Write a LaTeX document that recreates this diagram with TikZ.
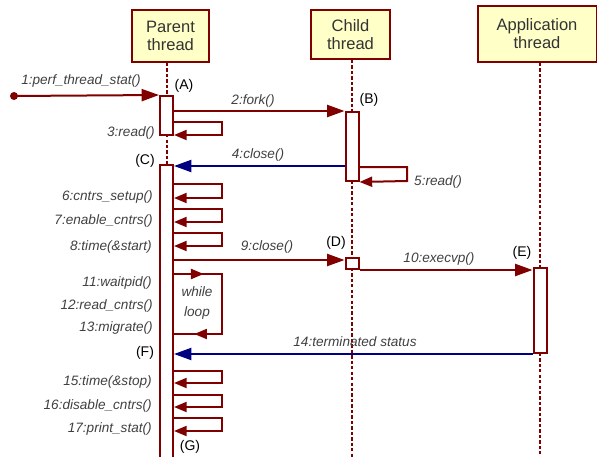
\documentclass[tikz,border=0pt]{standalone}
\usepackage{fontspec}
\setmainfont{Liberation Sans}
\usetikzlibrary{arrows.meta,calc,decorations.markings}
\definecolor{dred}{HTML}{800000}
\definecolor{dblue}{HTML}{000080}
\definecolor{hdrfill}{HTML}{FFFFC8}
\definecolor{lbl}{HTML}{404040}
\definecolor{hdrtxt}{HTML}{333333}
\newcommand\sloop[3]{\draw[selfm] (#1.east |- 0,#2) -- (222,#2) -- (222,#3) -- (#1.east |- 0,#3);}
\begin{document}
\begin{tikzpicture}[x=0.75pt,y=-0.75pt,
  hdr/.style={draw=dred,line width=1.5pt,fill=hdrfill,text=hdrtxt,align=center,
    font=\fontsize{12.4}{13.5}\selectfont,inner sep=0pt},
  bar/.style={draw=dred,line width=1.5pt,fill=white,minimum width=9.75pt,inner sep=0pt},
  life/.style={draw=dred,line width=1.5pt,dash pattern=on 2.5pt off 1.6pt},
  msg/.style={draw=dred,line width=1.5pt,-{Triangle[length=13pt,width=9pt]}},
  ret/.style={draw=dblue,line width=1.5pt,-{Triangle[length=13pt,width=9pt]}},
  selfm/.style={draw=dred,line width=1.5pt,-{Triangle[length=9.5pt,width=7.5pt]}},
  lab/.style={text=lbl,font=\fontsize{10.2}{12}\selectfont\itshape,inner sep=0pt},
  tag/.style={text=black,font=\fontsize{10.5}{12}\selectfont,inner sep=0pt}]
\useasboundingbox (0,0) rectangle (597,457);
\clip (0,0) rectangle (597,457);
% headers
\node[hdr,minimum width=57.75pt,minimum height=39pt] (parent) at (170.5,36) {Parent\\thread};
\node[hdr,minimum width=59.25pt,minimum height=36.75pt] (child) at (350.5,34.5) {Child\\thread};
\node[hdr,minimum width=89.25pt,minimum height=42pt] (app) at (537,34) {Application\\thread};
% bar placeholders (coordinates for lifelines)
\path (166.5,115.5) coordinate (cA) (352,146.5) coordinate (cB) (540,310.5) coordinate (cE);
% lifelines
\draw[life] (cA |- parent.south) -- (cA |- 0,470);
\draw[life] (cB |- child.south) -- (cB |- 0,470);
\draw[life] (cE |- app.south) -- (cE |- 0,470);
% activation bars
\node[bar,minimum height=29.25pt] (barA) at (166.5,115.5) {};
\node[bar,minimum height=51.75pt] (barB) at (352,146.5) {};
\node[bar,minimum height=228.75pt] (barC) at (166.5,317.5) {};
\node[bar,minimum height=8.25pt] (barD) at (352,263.5) {};
\node[bar,minimum height=63.75pt] (barE) at (540,310.5) {};
% 1
\node[circle,fill=dred,inner sep=0pt,minimum size=6pt] (start) at (14,96) {};
\draw[msg] (start.center) -- (barA.north west);
\node[lab] (l1) at (81,81) {1:perf\_thread\_stat()};
\node[tag] (tA) at (184,86) {(A)};
% 2 fork
\draw[msg] (barA.east |- barB.north west) -- (barB.north west);
\node[lab] (l2) at (253,101) {2:fork()};
\node[tag] (tB) at (369,100) {(B)};
% 3 read
\sloop{barA}{122}{135}
\node[lab,anchor=east] (l3) at (155,133) {3:read()};
% 4 close
\draw[ret] (barB.west |- 0,166) -- (barC.east |- 0,166);
\node[lab] (l4) at (258,155) {4:close()};
\node[tag] (tC) at (145,161) {(C)};
% 5 read
\draw[selfm] (barB.east |- 0,167) -- (407,167) -- (407,181) -- (barB.south east);
\node[lab] (l5) at (438,182) {5:read()};
% 6-8
\sloop{barC}{184}{198}
\node[lab,anchor=east] (l6) at (153,197) {6:cntrs\_setup()};
\sloop{barC}{209}{222}
\node[lab,anchor=east] (l7) at (153,221) {7:enable\_cntrs()};
\sloop{barC}{233}{246}
\node[lab,anchor=east] (l8) at (152,247) {8:time(\&start)};
% 9 close
\draw[msg] (barC.east |- 0,260) -- (barD.west |- 0,260);
\node[lab] (l9) at (267,247) {9:close()};
\node[tag] (tD) at (336,243) {(D)};
% 10 execvp
\draw[msg] (barD.south east) -- (barE.west |- barD.south east);
\node[lab] (l10) at (439,259) {10:execvp()};
\node[tag] (tE) at (522,253) {(E)};
% while loop
\draw[draw=dred,line width=1.5pt,postaction={decorate},
  decoration={markings,
    mark=at position 0.19 with {\arrow{Triangle[length=9.5pt,width=7.5pt]}},
    mark=at position 0.87 with {\arrow{Triangle[length=9.5pt,width=7.5pt]}}}]
  (barC.east |- 0,274) -- (222,274) -- (222,334) -- (barC.east |- 0,334);
\node[lab,align=center,font=\fontsize{10.2}{15}\selectfont\itshape] (wl) at (197,303) {while\\loop};
\node[lab,anchor=east] (l11) at (152,283) {11:waitpid()};
\node[lab,anchor=east] (l12) at (153,306) {12:read\_cntrs()};
\node[lab,anchor=east] (l13) at (153,328) {13:migrate()};
% 14
\draw[ret] (barE.south west) -- (barC.east |- barE.south west);
\node[lab] (l14) at (355,342) {14:terminated status};
\node[tag] (tF) at (145,353) {(F)};
% 15-17
\sloop{barC}{371}{383}
\node[lab,anchor=east] (l15) at (152,382) {15:time(\&stop)};
\sloop{barC}{395}{407}
\node[lab,anchor=east] (l16) at (152,406) {16:disable\_cntrs()};
\sloop{barC}{418}{431}
\node[lab,anchor=east] (l17) at (152,429) {17:print\_stat()};
\node[tag] (tG) at (190,447) {(G)};
\end{tikzpicture}
\end{document}
